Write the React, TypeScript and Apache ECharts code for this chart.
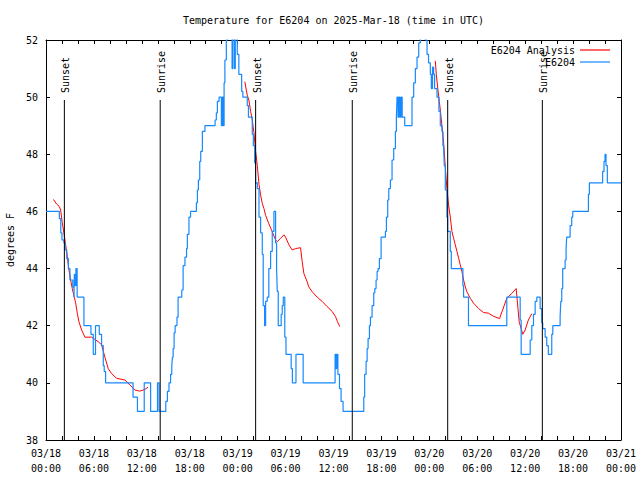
import React, { useEffect, useRef } from 'react';
import * as echarts from 'echarts';

const titleText = 'Temperature for E6204 on 2025-Mar-18 (time in UTC)';
const yAxisTitle = 'degrees F';
const analysisName = 'E6204 Analysis';
const obsName = 'E6204';

// hours since 03/18 00:00 UTC
const xTickLabels = [
  '03/18\n00:00', '03/18\n06:00', '03/18\n12:00', '03/18\n18:00',
  '03/19\n00:00', '03/19\n06:00', '03/19\n12:00', '03/19\n18:00',
  '03/20\n00:00', '03/20\n06:00', '03/20\n12:00', '03/20\n18:00',
  '03/21\n00:00',
];

const sunTimes = [2.3, 14.3, 26.25, 38.35, 50.3, 62.15];
const sunLabels = ['Sunset', 'Sunrise', 'Sunset', 'Sunrise', 'Sunset', 'Sunrise'];
const sunLineTop = 49.9;

// observations: [hour, °F] at each change
const obsData: number[][] = [
  [0, 46.0], [1.67, 45.75], [1.85, 45.25], [2.0, 45.0], [2.25, 44.9], [2.4, 44.65],
  [2.6, 44.35], [2.8, 44.0], [3.0, 43.6], [3.35, 43.35], [3.5, 43.0], [3.55, 43.8],
  [3.65, 43.4], [3.75, 44.0], [3.9, 43.0], [4.75, 42.0], [5.63, 41.7], [5.92, 41.0],
  [6.2, 42.0], [6.67, 41.7], [6.96, 41.3], [7.17, 40.6], [7.29, 40.4], [7.46, 40.0],
  [10.9, 39.5], [11.45, 39.0], [12.3, 40.0], [13.1, 39.0], [13.96, 40.0], [14.16, 39.0],
  [15.0, 39.35], [15.2, 39.7], [15.4, 40.0], [15.6, 40.3], [15.75, 40.6], [15.83, 40.9],
  [15.92, 41.2], [16.04, 41.75], [16.17, 42.0], [16.4, 42.3], [16.54, 43.0], [17.0, 43.25],
  [17.17, 44.1], [17.4, 44.4], [17.6, 44.7], [17.7, 45.2], [17.9, 45.8], [18.1, 46.0],
  [18.83, 46.3], [18.96, 46.75], [19.08, 47.1], [19.25, 47.75], [19.375, 48.1], [19.58, 48.8],
  [19.9, 49.0], [21.17, 49.2], [21.33, 49.45], [21.46, 49.85], [21.67, 50.0], [21.96, 49.0],
  [22.08, 50.0], [22.2, 49.0], [22.3, 50.5], [22.4, 51.3], [22.58, 52.0], [22.7, 52.6],
  [23.3, 51.0], [23.4, 52.6], [23.6, 51.0], [23.7, 52.6], [23.95, 51.5], [24.15, 50.8],
  [24.5, 50.2], [24.65, 50.0], [25.2, 49.7], [25.35, 49.3], [25.83, 48.7], [25.96, 48.3],
  [26.125, 47.7], [26.25, 47.0], [26.46, 46.8], [26.67, 45.8], [26.875, 45.25], [27.08, 44.5],
  [27.2, 42.7], [27.375, 42.0], [27.5, 42.85], [27.7, 43.0], [27.9, 44.0], [28.125, 44.6],
  [28.33, 45.3], [28.54, 46.0], [28.75, 44.9], [28.875, 44.0], [28.96, 43.2], [29.08, 42.0],
  [29.45, 42.4], [29.58, 42.7], [29.71, 43.0], [29.9, 41.6], [30.05, 41.0], [30.7, 40.5],
  [30.85, 40.0], [31.3, 41.0], [32.2, 40.0], [36.2, 41.0], [36.3, 40.5], [36.4, 41.0],
  [36.55, 40.3], [36.75, 39.8], [36.95, 39.35], [37.2, 39.0],
  [39.79, 39.5], [39.9, 40.3], [40.08, 40.75], [40.21, 41.2], [40.33, 41.55], [40.5, 42.0],
  [40.625, 42.3], [40.83, 42.7], [41.04, 43.15], [41.17, 43.3], [41.33, 43.6], [41.46, 43.9],
  [41.58, 44.0], [41.75, 44.35], [41.96, 45.1], [42.5, 45.3], [42.625, 45.8], [42.79, 46.4],
  [42.92, 46.8], [43.125, 47.1], [43.33, 47.8], [43.54, 48.2], [43.75, 48.8], [43.875, 49.3],
  [43.96, 50.0], [44.08, 49.3], [44.2, 50.0], [44.33, 49.3], [44.46, 50.0], [44.6, 49.3],
  [44.92, 49.0], [45.83, 50.0], [46.04, 50.5], [46.25, 51.0], [46.46, 51.4], [46.67, 51.9],
  [46.875, 52.6], [47.5, 52.0], [47.71, 51.5], [47.9, 51.2], [48.125, 50.8], [48.25, 50.3],
  [48.4, 51.05], [48.54, 50.8], [48.66, 50.3], [48.96, 50.0], [49.2, 49.5], [49.375, 49.0],
  [49.58, 48.8], [49.7, 48.3], [49.79, 48.2], [49.875, 47.6], [50.0, 46.75], [50.2, 45.8],
  [50.29, 45.3], [50.625, 44.6], [50.75, 44.0], [52.2, 43.4], [52.29, 43.0], [52.9, 42.0],
  [57.7, 43.0], [59.375, 42.2], [59.5, 41.0], [60.625, 41.5], [60.83, 42.0], [61.04, 42.4],
  [61.25, 42.85], [61.46, 43.0], [61.875, 42.6], [62.08, 42.1], [62.2, 41.9], [62.5, 41.6],
  [62.7, 41.3], [62.9, 41.0], [63.33, 41.7], [63.46, 42.0], [64.375, 42.3], [64.46, 42.85],
  [64.58, 43.3], [64.7, 44.0], [65.0, 44.3], [65.125, 44.7], [65.2, 45.1], [65.625, 45.5],
  [65.83, 45.8], [65.96, 46.0], [67.92, 46.6], [68.04, 47.0], [69.7, 47.4], [69.875, 47.75],
  [70.0, 48.0], [70.125, 47.6], [70.29, 47.0], [72, 47.0],
];

// analysis: [hour, °F], null breaks the line between runs
const analysisData: (number[] | null)[] = [
  [0.92, 46.42], [1.33, 46.26], [1.67, 46.17], [1.83, 46.05], [2.04, 45.6], [2.25, 45.24],
  [2.46, 44.83], [2.67, 44.42], [2.875, 43.95], [3.08, 43.6], [3.29, 43.3], [3.54, 43.0],
  [3.71, 42.8], [3.92, 42.43], [4.125, 42.14], [4.46, 41.85], [4.875, 41.6], [5.7, 41.6],
  [6.54, 41.44], [6.96, 41.33], [7.375, 40.9], [7.79, 40.5], [8.2, 40.33], [8.83, 40.16],
  [9.875, 40.1], [10.5, 39.93], [11.125, 39.75], [11.75, 39.71], [12.375, 39.77], [12.79, 39.85],
  null,
  [24.9, 50.54], [25.08, 50.25], [25.2, 50.07], [25.4, 49.9], [25.625, 49.5], [25.83, 49.2],
  [26.04, 48.75], [26.25, 48.1], [26.46, 47.6], [26.67, 46.95], [26.875, 46.57], [27.08, 46.28],
  [27.29, 46.1], [27.5, 45.86], [27.9, 45.57], [28.33, 45.29], [28.75, 45.0], [28.96, 44.94],
  [29.375, 45.06], [29.79, 45.18], [30.0, 45.1], [30.42, 44.83], [30.83, 44.65], [31.25, 44.7],
  [31.875, 44.73], [32.08, 44.24], [32.29, 43.83], [32.7, 43.54], [32.9, 43.36], [33.33, 43.19],
  [33.96, 43.0], [34.58, 42.85], [35.2, 42.67], [35.83, 42.5], [36.25, 42.32], [36.5, 42.14],
  [36.79, 41.97],
  null,
  [48.75, 51.27], [48.875, 50.78], [49.08, 50.25], [49.25, 49.84], [49.375, 49.55], [49.58, 49.0],
  [49.79, 48.4], [50.0, 47.55], [50.2, 46.8], [50.4, 46.25], [50.625, 45.8], [50.83, 45.3],
  [51.04, 45.06], [51.25, 44.83], [51.46, 44.6], [51.67, 44.36], [51.875, 44.13], [52.08, 43.9],
  [52.29, 43.6], [52.5, 43.36], [52.7, 43.19], [53.125, 42.96], [53.54, 42.79], [54.17, 42.6],
  [54.79, 42.46], [55.4, 42.44], [56.04, 42.33], [56.79, 42.25], [57.7, 42.96], [58.33, 43.13],
  [58.875, 43.3], [59.1, 42.6], [59.25, 42.14], [59.7, 41.7], [60.0, 41.85], [60.4, 42.2],
  [60.83, 42.42],
];

const FONT = 'DejaVu Sans Mono';
const RED = '#ff0000';
const BLUE = '#1589ff';

export default function App() {
  const ref = useRef<HTMLDivElement>(null);

  useEffect(() => {
    const chart = echarts.init(ref.current!, null, { renderer: 'svg' });
    const axisLine = { show: true, onZero: false, lineStyle: { color: '#000', width: 1 } };
    const axisTick = { show: true, inside: true, length: 4, lineStyle: { color: '#000', width: 1 } };
    const labelStyle = { color: '#000', fontFamily: FONT, fontSize: 10 };

    chart.setOption({
      animation: false,
      backgroundColor: '#fff',
      textStyle: { fontFamily: FONT, fontSize: 10, color: '#000' },
      grid: { left: 46, right: 19, top: 40, bottom: 40, containLabel: false, outerBoundsMode: 'none' },
      graphic: [
        {
          type: 'text',
          x: 333.5,
          y: 20,
          style: { text: titleText, font: `10px "${FONT}"`, fill: '#000', align: 'center', verticalAlign: 'middle' },
        },
      ],
      legend: {
        orient: 'vertical',
        right: 30,
        top: 45,
        padding: 0,
        align: 'right',
        icon: 'rect',
        itemWidth: 30,
        itemHeight: 1.2,
        itemGap: 2,
        data: [analysisName, obsName],
        textStyle: { ...labelStyle, lineHeight: 10, height: 10 },
      },
      xAxis: [
        {
          type: 'value', min: 0, max: 72, interval: 2, position: 'bottom',
          axisLine, axisTick,
          splitLine: { show: false },
          axisLabel: {
            ...labelStyle, margin: 6, lineHeight: 15, showMinLabel: true, showMaxLabel: true,
            formatter: (v: number) => (v % 6 === 0 ? xTickLabels[v / 6] : ''),
          },
        },
        {
          type: 'value', min: 0, max: 72, interval: 2, position: 'top',
          axisLine, axisTick, splitLine: { show: false }, axisLabel: { show: false },
        },
      ],
      yAxis: [
        {
          type: 'value', min: 38, max: 52, interval: 2, position: 'left',
          name: yAxisTitle, nameLocation: 'middle', nameGap: 31, nameRotate: 90,
          nameTextStyle: labelStyle,
          axisLine, axisTick, splitLine: { show: false },
          axisLabel: { ...labelStyle, margin: 8 },
        },
        {
          type: 'value', min: 38, max: 52, interval: 2, position: 'right',
          axisLine, axisTick, splitLine: { show: false }, axisLabel: { show: false },
        },
      ],
      series: [
        {
          name: analysisName, type: 'line', data: analysisData, symbol: 'none', showSymbol: false,
          connectNulls: false, clip: true, z: 2,
          lineStyle: { color: RED, width: 1 }, itemStyle: { color: RED },
        },
        {
          name: obsName, type: 'line', step: 'end', data: obsData, symbol: 'none', showSymbol: false,
          clip: true, z: 3,
          lineStyle: { color: BLUE, width: 1.2 }, itemStyle: { color: BLUE },
        },
        {
          type: 'custom', z: 5, silent: true,
          data: sunTimes.map((t) => [t, 38]),
          renderItem: (params: any, api: any) => {
            const t = api.value(0);
            const b = api.coord([t, 38]);
            const tp = api.coord([t, sunLineTop]);
            return {
              type: 'group',
              children: [
                { type: 'line', shape: { x1: b[0], y1: b[1], x2: tp[0], y2: tp[1] }, style: { stroke: '#000', lineWidth: 1 } },
                {
                  type: 'text', x: tp[0] + 1.5, y: tp[1] - 7, rotation: Math.PI / 2,
                  style: { text: sunLabels[params.dataIndex], font: `10px "${FONT}"`, fill: '#000', align: 'left', verticalAlign: 'middle' },
                },
              ],
            };
          },
        },
      ],
    });
    return () => chart.dispose();
  }, []);

  return (
    <div
      ref={ref}
      style={{ position: 'fixed', left: 0, top: 0, width: 640, height: 480, background: '#fff' }}
    />
  );
}
